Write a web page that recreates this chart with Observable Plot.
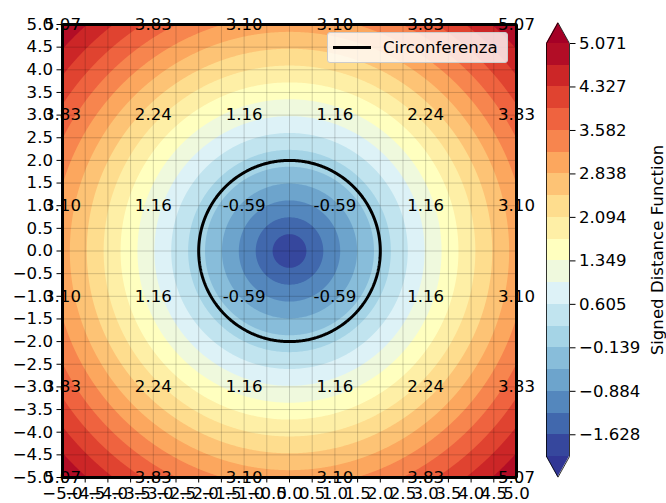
<!DOCTYPE html>
<html>
<head>
<meta charset="utf-8">
<script src="https://cdn.jsdelivr.net/npm/d3@7"></script>
<script src="https://cdn.jsdelivr.net/npm/@observablehq/plot@0.6"></script>
<style>
  html, body { margin: 0; padding: 0; background: #fff; }
  #wrap { position: relative; width: 666px; height: 503px; overflow: hidden; font-family: "DejaVu Sans", sans-serif; }
  #wrap svg { position: absolute; top: 0; overflow: visible; }
  #legend { position: absolute; left: 327px; top: 32px; width: 181px; height: 31px;
    background: rgba(255,255,255,0.8); border: 1px solid #cccccc; border-radius: 3px;
    box-sizing: border-box; display: flex; align-items: center; font-size: 16.6px; color: #000; }
  #legend .sw { width: 38px; height: 0; border-top: 3px solid #000; margin-left: 5px; margin-right: 12px; }
</style>
</head>
<body>
<div id="wrap"></div>
<script>
// ---- data ----
const radius = 2; // circle radius (zero level of the signed distance function)
const domainXY = [-5, 5];
const levels = [-2.0000, -1.6278, -1.2557, -0.8835, -0.5114, -0.1392, 0.2330, 0.6051, 0.9773, 1.3494,
                1.7216, 2.0938, 2.4659, 2.8381, 3.2102, 3.5824, 3.9546, 4.3267, 4.6989, 5.0711];
const cbTicks = [-1.628, -0.884, -0.139, 0.605, 1.349, 2.094, 2.838, 3.582, 4.327, 5.071];
const xTicks = [-5, -4.5, -4, -3.5, -3, -2.5, -2, -1.5, -1, -0.5, 0, 0.5, 1, 1.5, 2, 2.5, 3, 3.5, 4, 4.5, 5];
const yTicks = [-5, -4.5, -4, -3.5, -3, -2.5, -2, -1.5, -1, -0.5, 0, 0.5, 1, 1.5, 2, 2.5, 3, 3.5, 4, 4.5, 5];
const labelX = [-5, -3, -1, 1, 3, 5];
const labelY = [5, 3, 1, -1, -3, -5];
const labelValues = [
  [5.07, 3.83, 3.10, 3.10, 3.83, 5.07],
  [3.83, 2.24, 1.16, 1.16, 2.24, 3.83],
  [3.10, 1.16, -0.59, -0.59, 1.16, 3.10],
  [3.10, 1.16, -0.59, -0.59, 1.16, 3.10],
  [3.83, 2.24, 1.16, 1.16, 2.24, 3.83],
  [5.07, 3.83, 3.10, 3.10, 3.83, 5.07]
];
const legendLabel = "Circonferenza";
const cbLabel = "Signed Distance Function";
// RdYlBu (ColorBrewer) reversed: blue -> red
const rdylbuR = ["#313695","#4575b4","#74add1","#abd9e9","#e0f3f8","#ffffbf","#fee090","#fdae61","#f46d43","#d73027","#a50026"];

// ---- derived ----
const sdf = (x, y) => Math.hypot(x, y) - radius;
const cmap = d3.piecewise(d3.interpolateRgb, rdylbuR);
const step = levels[1] - levels[0];
const vmin = levels[0], vmax = levels[levels.length - 1];
const colorOpts = { type: "linear", domain: [vmin - step / 2, vmax - step / 2], interpolate: t => cmap(t) };
const labels = [];
labelY.forEach((y, i) => labelX.forEach((x, j) => labels.push({ x, y, v: labelValues[i][j] })));
const fmt1 = d => d.toFixed(1).replace("-", "\u2212");
const fmt3 = d => d.toFixed(3).replace("-", "\u2212");
const FS = 16.6;

const main = Plot.plot({
  width: 530, height: 503,
  marginLeft: 62, marginRight: 14, marginTop: 24, marginBottom: 26,
  x: { domain: domainXY },
  y: { domain: domainXY },
  color: colorOpts,
  style: { fontFamily: "DejaVu Sans", fontSize: FS + "px", color: "#000", background: "transparent", overflow: "visible" },
  marks: [
    Plot.contour({ fill: sdf, x1: -5, y1: -5, x2: 5, y2: 5, thresholds: levels.slice(0, -1), stroke: "none", pixelSize: 1 }),
    Plot.gridX(xTicks, { stroke: "#000", strokeOpacity: 0.22, strokeWidth: 0.8 }),
    Plot.gridY(yTicks, { stroke: "#000", strokeOpacity: 0.22, strokeWidth: 0.8 }),
    Plot.contour({ value: sdf, x1: -5, y1: -5, x2: 5, y2: 5, thresholds: [0], stroke: "#000", strokeWidth: 3, fill: "none", pixelSize: 1 }),
    Plot.text(labels, { x: "x", y: "y", text: d => d.v.toFixed(2), fill: "#000", fontSize: FS }),
    Plot.frame({ stroke: "#000", strokeWidth: 0.8 }),
    Plot.axisX(xTicks, { tickFormat: fmt1, tickSize: 5.5, tickPadding: 4, label: null, fontSize: FS }),
    Plot.axisY(yTicks, { tickFormat: fmt1, tickSize: 5.5, tickPadding: 4, label: null, fontSize: FS })
  ]
});

// colorbar
const bands = levels.slice(0, -1).map((lo, i) => ({ lo, hi: levels[i + 1] }));
const ext = (vmax - vmin) * 0.05;
const topArrow = [{ x: 0, y1: vmax, y2: vmax }, { x: 0.5, y1: vmax, y2: vmax + ext }, { x: 1, y1: vmax, y2: vmax }];
const botArrow = [{ x: 0, y1: vmin, y2: vmin }, { x: 0.5, y1: vmin, y2: vmin - ext }, { x: 1, y1: vmin, y2: vmin }];
const outline = [
  { x: 0, y: vmin }, { x: 0, y: vmax }, { x: 0.5, y: vmax + ext }, { x: 1, y: vmax },
  { x: 1, y: vmin }, { x: 0.5, y: vmin - ext }, { x: 0, y: vmin }
];
const cb = Plot.plot({
  width: 136, height: 503,
  marginLeft: 16, marginRight: 97, marginTop: 43, marginBottom: 47,
  x: { domain: [0, 1], axis: null },
  y: { domain: [vmin, vmax] },
  color: colorOpts,
  style: { fontFamily: "DejaVu Sans", fontSize: FS + "px", color: "#000", background: "transparent", overflow: "visible" },
  marks: [
    Plot.rect(bands, { x1: 0, x2: 1, y1: "lo", y2: "hi", fill: "lo", shapeRendering: "crispEdges" }),
    Plot.areaY(topArrow, { x: "x", y1: "y1", y2: "y2", fill: cmap(1) }),
    Plot.areaY(botArrow, { x: "x", y1: "y1", y2: "y2", fill: cmap(0) }),
    Plot.line(outline, { x: "x", y: "y", stroke: "#000", strokeWidth: 0.8 }),
    Plot.axisY(cbTicks, { anchor: "right", tickFormat: fmt3, tickSize: 5.5, tickPadding: 4, fontSize: FS,
      label: cbLabel, labelAnchor: "center", labelArrow: "none", labelOffset: 93 })
  ]
});
cb.style.left = "530px";

const wrap = document.getElementById("wrap");
wrap.appendChild(main);
wrap.appendChild(cb);
const lg = document.createElement("div");
lg.id = "legend";
lg.innerHTML = '<div class="sw"></div><span></span>';
lg.querySelector("span").textContent = legendLabel;
wrap.appendChild(lg);
</script>
</body>
</html>
